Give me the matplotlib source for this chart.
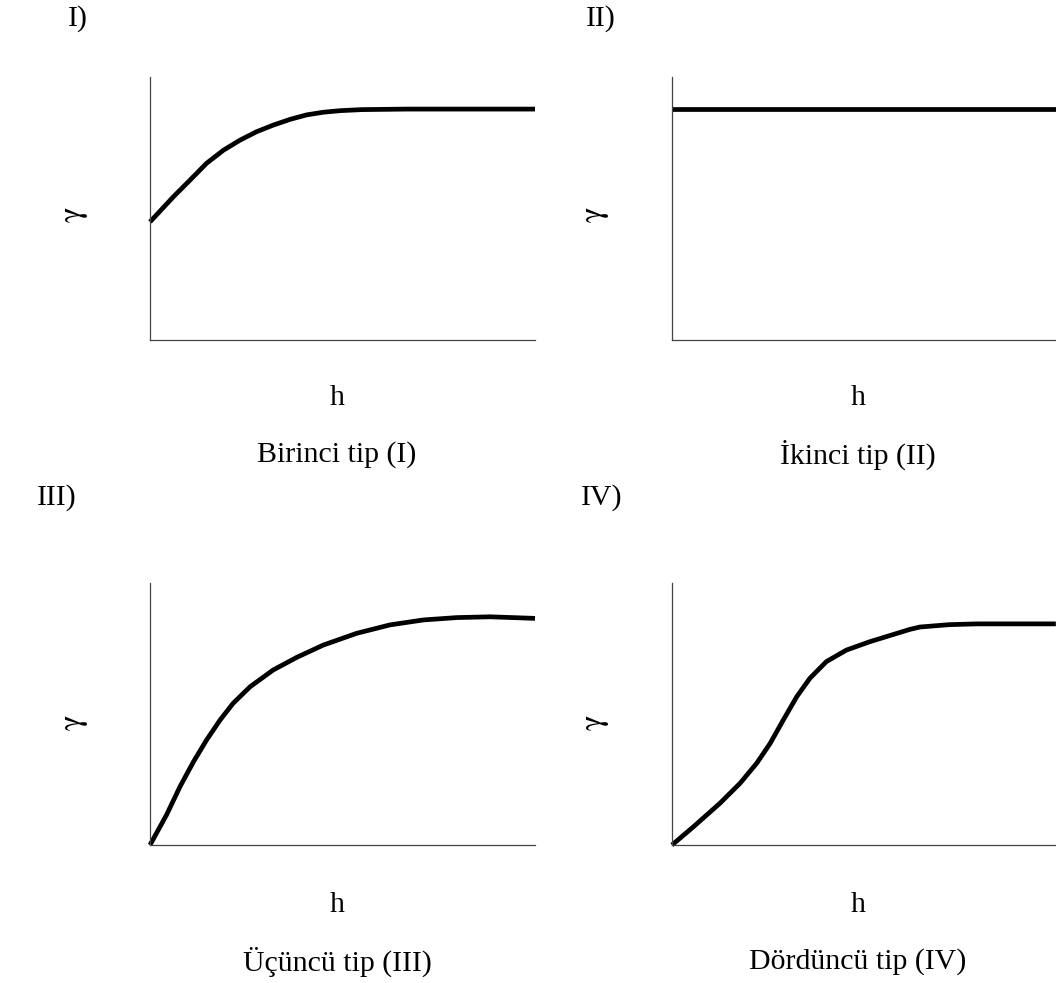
import matplotlib
matplotlib.use("Agg")
import matplotlib.pyplot as plt

plt.rcParams['font.family'] = ['Liberation Serif', 'DejaVu Serif']
plt.rcParams['mathtext.fontset'] = 'stix'

# Variogram shapes: lag distance h (0-10) vs semivariance gamma (0-10)
h_type1 = [0.0, 0.61, 1.04, 1.47, 1.91, 2.34, 2.77, 3.20, 3.64, 4.07, 4.50, 4.94, 5.50, 6.68, 8.30, 10.0]
g_type1 = [4.49, 5.45, 6.08, 6.72, 7.22, 7.60, 7.92, 8.17, 8.39, 8.56, 8.66, 8.72, 8.76, 8.78, 8.78, 8.78]

h_type2 = [0.0, 10.0]
g_type2 = [8.78, 8.78]

h_type3 = [0.0, 0.43, 0.78, 1.13, 1.47, 1.82, 2.16, 2.60, 3.20, 3.81, 4.50, 5.37, 6.23, 7.10, 7.97, 8.83, 10.0]
g_type3 = [0.0, 1.15, 2.23, 3.18, 4.01, 4.77, 5.41, 6.04, 6.68, 7.16, 7.63, 8.08, 8.40, 8.59, 8.68, 8.71, 8.65]

h_type4 = [0.0, 0.56, 1.25, 1.77, 2.20, 2.55, 2.89, 3.24, 3.58, 4.01, 4.53, 5.14, 6.18, 6.44, 7.20, 7.92, 9.97]
g_type4 = [0.0, 0.70, 1.60, 2.36, 3.12, 3.88, 4.77, 5.66, 6.36, 7.00, 7.44, 7.76, 8.23, 8.32, 8.41, 8.44, 8.44]

panel_tags = ["I)", "II)", "III)", "IV)"]
captions = ["Birinci tip (I)", "İkinci tip (II)", "Üçüncü tip (III)", "Dördüncü tip (IV)"]
x_label = "h"
y_label = r"$\mathrm{\gamma}$"

W, H = 1056, 983
fig = plt.figure(figsize=(W / 100, H / 100), dpi=100)
fig.patch.set_facecolor("white")


def px(x, y):
    return x / W, 1 - y / H


# left, top(px), bottom(px) for each panel
frames = [(150, 77, 340), (672, 77, 340), (150, 583, 845), (672, 583, 845)]
series = [(h_type1, g_type1), (h_type2, g_type2), (h_type3, g_type3), (h_type4, g_type4)]
tag_pos = [(78, 19), (601, 19), (57, 498), (602, 498)]
gamma_pos = [(75, 215), (596, 215), (75, 723), (596, 723)]
h_pos = [(337, 398), (858, 398), (337, 905), (858, 905)]
cap_pos = [(337, 455), (858, 455), (337, 962), (858, 962)]

fs = 21.5
for i in range(4):
    left, top, bottom = frames[i]
    width = 385
    ax = fig.add_axes([left / W, 1 - bottom / H, width / W, (bottom - top) / H])
    ax.set_xlim(0, 10)
    ax.set_ylim(0, 10)
    for s in ("top", "right"):
        ax.spines[s].set_visible(False)
    for s in ("left", "bottom"):
        ax.spines[s].set_color("#444444")
        ax.spines[s].set_linewidth(0.9)
    ax.set_xticks([])
    ax.set_yticks([])
    hx, gy = series[i]
    ax.plot(hx, gy, color="black", lw=3.4, solid_capstyle="butt",
            solid_joinstyle="round", clip_on=False)

    fig.text(*px(*tag_pos[i]), panel_tags[i], fontsize=fs, ha="center", va="center")
    fig.text(*px(*gamma_pos[i]), y_label, fontsize=fs + 2, ha="center", va="center", rotation=90)
    fig.text(*px(*h_pos[i]), x_label, fontsize=fs, ha="center", va="center")
    fig.text(*px(*cap_pos[i]), captions[i], fontsize=fs, ha="center", va="center")

fig.savefig("out.png", dpi=100, facecolor="white")
